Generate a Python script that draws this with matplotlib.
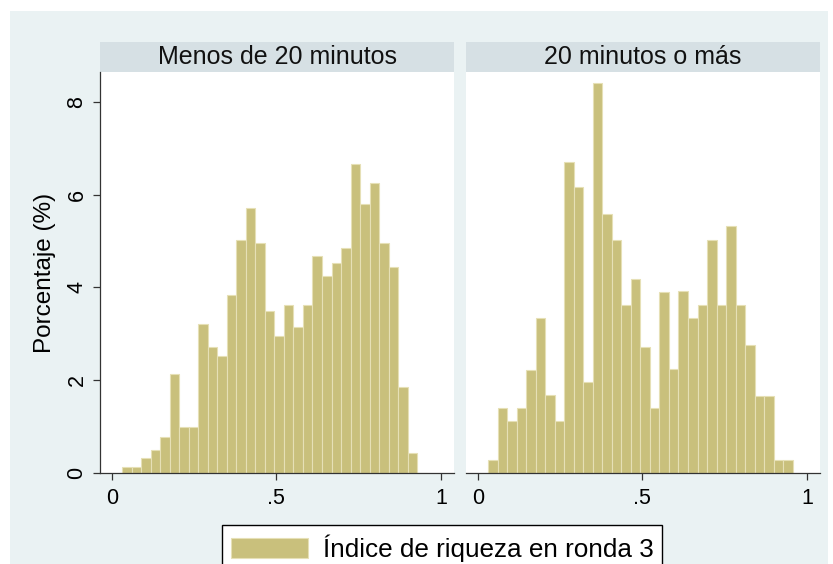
import numpy as np
import matplotlib
matplotlib.use("Agg")
import matplotlib.pyplot as plt
from matplotlib.patches import Rectangle

plt.rcParams["font.family"] = ["Liberation Sans", "DejaVu Sans"]

# ── data (percent per bin) ────────────────────────────────────────────────
panel_titles = ["Menos de 20 minutos", "20 minutos o más"]
bin_start = 0.032
bin_width = 0.0289
pct_menos20 = [0.14, 0.14, 0.32, 0.50, 0.77, 2.13, 1.00, 1.00, 3.21, 2.71,
               2.53, 3.83, 5.02, 5.71, 4.96, 3.49, 2.95, 3.63, 3.15, 3.63,
               4.68, 4.24, 4.52, 4.85, 6.65, 5.79, 6.24, 4.95, 4.43, 1.86,
               0.43, 0.00]
pct_20mas = [0.27, 1.40, 1.13, 1.40, 2.22, 3.33, 1.68, 1.13, 6.70, 6.16,
             1.95, 8.40, 5.59, 5.03, 3.61, 4.19, 2.72, 1.40, 3.91, 2.24,
             3.92, 3.35, 3.61, 5.03, 3.61, 5.33, 3.61, 2.76, 1.66, 1.66,
             0.27, 0.27]
x_ticks = [0, 0.5, 1]
x_ticklabels = ["0", ".5", "1"]
y_ticks = [0, 2, 4, 6, 8]
y_label = "Porcentaje (%)"
legend_label = "Índice de riqueza en ronda 3"

# ── style ────────────────────────────────────────────────────────────────
BAR = "#C9C07C"
BAR_EDGE = "#E6E0B6"
BG = "#EAF2F3"
STRIP = "#D6E0E4"
W, H = 833, 564

fig = plt.figure(figsize=(W / 100, H / 100), dpi=100, facecolor="white")
fig.patches.append(Rectangle((10 / W, 0), 818 / W, 553 / H,
                             transform=fig.transFigure, fc=BG, ec="none",
                             zorder=-10))

edges = bin_start + bin_width * np.arange(len(pct_menos20))
lefts_px = [100, 466]
bars = None
for i, (title, vals) in enumerate(zip(panel_titles, [pct_menos20, pct_20mas])):
    ax = fig.add_axes([lefts_px[i] / W, (H - 473) / H, 354 / W, 401 / H])
    ax.set_facecolor("white")
    b = ax.bar(edges, vals, width=bin_width, align="edge", color=BAR,
               edgecolor=BAR_EDGE, linewidth=0.8)
    if bars is None:
        bars = b
    ax.set_xlim(-0.0356, 1.04)
    ax.set_ylim(0, 8.64)
    ax.set_xticks(x_ticks)
    ax.set_xticklabels(x_ticklabels)
    ax.tick_params(axis="x", length=5, width=0.9, pad=6, labelsize=15.5,
                   color="#333333")
    for s in ["top", "right"]:
        ax.spines[s].set_visible(False)
    ax.spines["bottom"].set_color("#333333")
    ax.spines["bottom"].set_linewidth(0.9)
    if i == 0:
        ax.set_yticks(y_ticks)
        ax.set_yticklabels([str(t) for t in y_ticks], rotation=90,
                           va="center")
        ax.tick_params(axis="y", length=5, width=0.9, pad=4, labelsize=15.5,
                       color="#333333")
        ax.spines["left"].set_color("#333333")
        ax.spines["left"].set_linewidth(0.9)
    else:
        ax.spines["left"].set_visible(False)
        ax.set_yticks([])
    # strip title
    ax.add_patch(Rectangle((0, 1), 1, 30 / 401, transform=ax.transAxes,
                           fc=STRIP, ec="none", clip_on=False))
    ax.text(0.5, 1 + 15 / 401, title, transform=ax.transAxes,
            ha="center", va="center", fontsize=18, color="#111111")

fig.text(45 / W, 1 - 273 / H, y_label, rotation=90, ha="center",
         va="center", fontsize=17.5)

leg = fig.legend([bars], [legend_label], loc="upper left",
                 bbox_to_anchor=(222 / W, 1 - 525 / H), borderaxespad=0,
                 fontsize=18.8, frameon=True, fancybox=False,
                 handlelength=2.95, handleheight=0.8, handletextpad=0.55,
                 borderpad=0.35)
leg.get_frame().set_edgecolor("black")
leg.get_frame().set_linewidth(1.0)
leg.get_frame().set_facecolor("white")
leg.get_frame().set_alpha(1)

fig.savefig("out.png", dpi=100, facecolor=fig.get_facecolor())
